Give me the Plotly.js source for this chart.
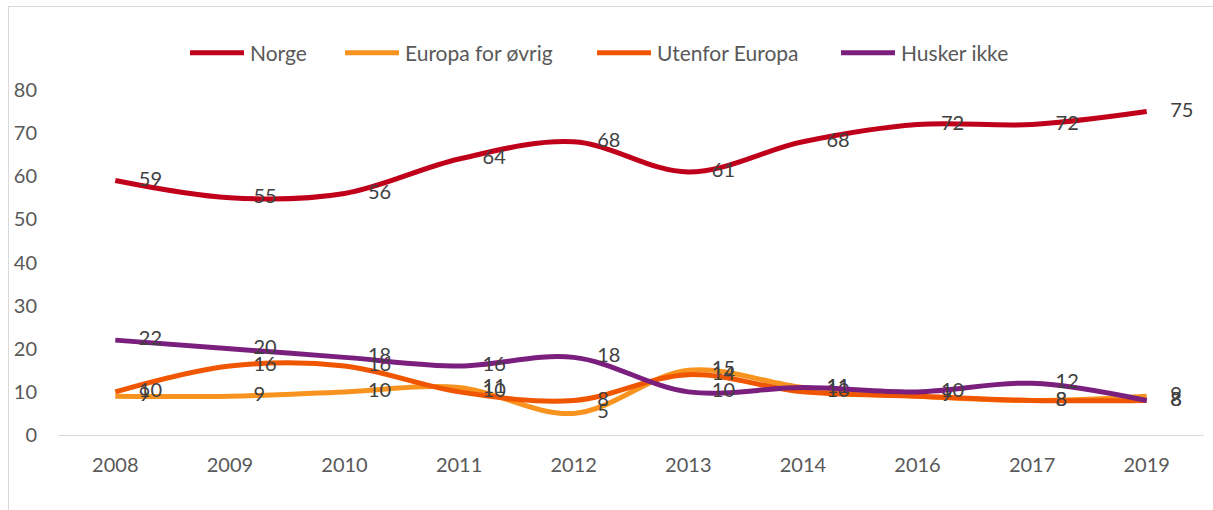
<!DOCTYPE html>
<html>
<head>
<meta charset="utf-8">
<script src="https://cdn.plot.ly/plotly-3.0.1.min.js"></script>
<style>
  html, body { margin: 0; padding: 0; background: #fff; }
  #chart { width: 1213px; height: 510px; position: absolute; left: 0; top: 0; }
  #frame { position: absolute; left: 8px; top: 6px; width: 1213px; height: 520px;
           border-left: 1px solid #d9d9d9; border-top: 1px solid #d9d9d9; pointer-events: none; }
</style>
</head>
<body>
<div id="chart"></div>
<div id="frame"></div>
<script>
const years = ['2008', '2009', '2010', '2011', '2012', '2013', '2014', '2016', '2017', '2019'];
const norge = [59, 55, 56, 64, 68, 61, 68, 72, 72, 75];
const europa = [9, 9, 10, 11, 5, 15, 11, 9, 8, 9];
const utenfor = [10, 16, 16, 10, 8, 14, 10, 9, 8, 8];
const husker = [22, 20, 18, 16, 18, 10, 11, 10, 12, 8];
const yTicks = [0, 10, 20, 30, 40, 50, 60, 70, 80];

const series = [
  { name: 'Norge', y: norge, color: '#C0001A', legend: 'legend', lx: 190 },
  { name: 'Europa for øvrig', y: europa, color: '#F7931E', legend: 'legend2', lx: 345 },
  { name: 'Utenfor Europa', y: utenfor, color: '#F05500', legend: 'legend3', lx: 597 },
  { name: 'Husker ikke', y: husker, color: '#7B1F7F', legend: 'legend4', lx: 841 }
];

const font = 'Lato, "Open Sans", sans-serif';
const M = { l: 58, r: 9, t: 90, b: 75 };
const W = 1213, H = 510;
const plotW = W - M.l - M.r;

const traces = series.map(s => ({
  type: 'scatter',
  mode: 'lines+markers+text',
  name: s.name,
  legend: s.legend,
  x: years,
  y: s.y,
  text: s.y.map(String),
  textposition: 'middle right',
  textfont: { family: font, size: 20, color: '#404040' },
  cliponaxis: false,
  line: { color: s.color, width: 5, shape: 'spline', smoothing: 1 },
  marker: { size: 36, color: 'rgba(0,0,0,0)', line: { width: 0 } },
  hoverinfo: 'x+y+name'
}));

const layout = {
  width: W,
  height: H,
  margin: M,
  paper_bgcolor: '#ffffff',
  plot_bgcolor: '#ffffff',
  showlegend: true,
  xaxis: {
    type: 'category',
    range: [-0.5, 9.5],
    autorange: false,
    tickfont: { family: font, size: 20, color: '#595959' },
    showgrid: false,
    showline: true,
    linecolor: '#d9d9d9',
    linewidth: 1,
    ticks: '',
    zeroline: false,
    ticklabelstandoff: 12
  },
  yaxis: {
    range: [0, 80],
    autorange: false,
    tickvals: yTicks,
    ticktext: yTicks.map(String),
    tickfont: { family: font, size: 20, color: '#595959' },
    showgrid: false,
    showline: false,
    zeroline: false,
    ticks: '',
    ticklabelstandoff: 20
  }
};

series.forEach(s => {
  layout[s.legend] = {
    orientation: 'h',
    x: (s.lx - 5 - M.l) / plotW, xanchor: 'left',
    y: 1 - 53 / H, yref: 'container', yanchor: 'middle',
    font: { family: font, size: 21, color: '#595959' },
    itemwidth: 55,
    bgcolor: 'rgba(0,0,0,0)',
    borderwidth: 0
  };
});

Plotly.newPlot('chart', traces, layout, { displayModeBar: false, staticPlot: true }).then(gd => {
  gd.querySelectorAll('.legendlines path').forEach(p => p.setAttribute('d', 'M5,0h54'));
});
</script>
</body>
</html>
